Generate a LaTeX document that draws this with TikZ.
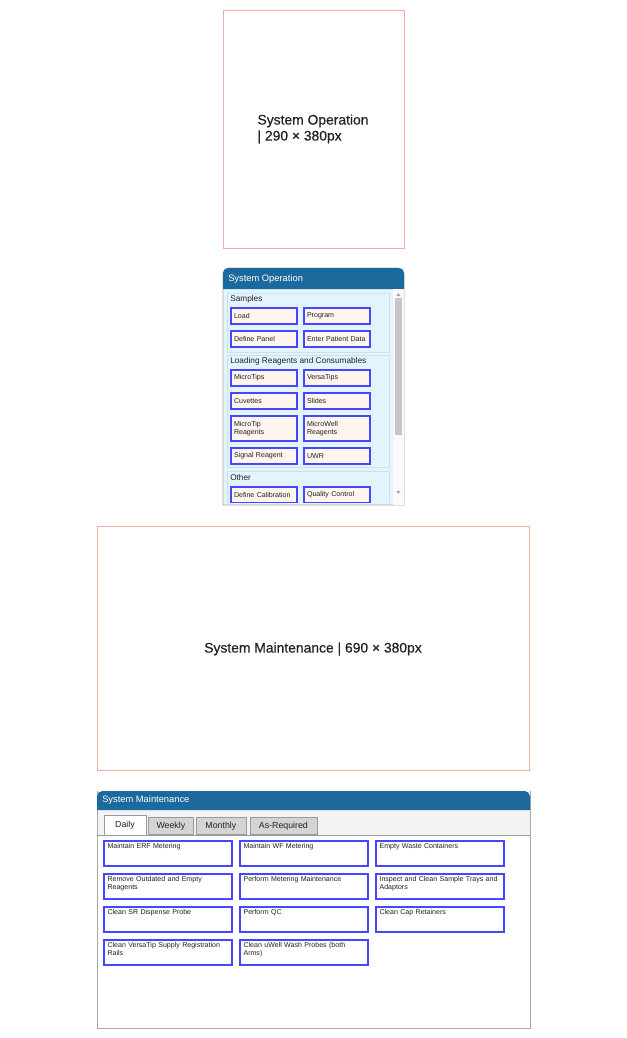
\documentclass[tikz,border=0pt]{standalone}
\usepackage{fontspec}
\setmainfont{Liberation Sans}
\newfontfamily\phfont{Liberation Sans}[FakeBold=0.5]
\definecolor{pinkb}{HTML}{F7A8A8}
\definecolor{hdr}{HTML}{1C699E}
\definecolor{opbg}{HTML}{E4F4FC}
\definecolor{grpb}{HTML}{C9E2EE}
\definecolor{btnfill}{HTML}{FFF5EF}
\definecolor{btnb}{HTML}{4646FF}
\definecolor{tabg}{HTML}{D4D4D4}
\definecolor{tabb}{HTML}{9A9A9A}
\definecolor{txt}{HTML}{222222}
\definecolor{panb}{HTML}{A8A8A8}
\definecolor{strip}{HTML}{F3F3F3}
\tikzset{
  ph/.style={draw=pinkb, line width=0.65pt},
  phtext/.style={font=\phfont\fontsize{10.4}{12}\selectfont, text=txt, align=left, inner sep=0pt},
  hdrtext/.style={font=\fontsize{7}{8}\selectfont, text=white, anchor=west, inner sep=0pt},
  grplabel/.style={font=\fontsize{6.2}{7}\selectfont, text=txt, anchor=west, inner sep=0pt},
  grpbox/.style={draw=grpb, line width=0.6pt},
  btnedge/.style={draw=btnb, line width=1.5pt},
  opbtn/.style={btnedge, fill=btnfill, anchor=north west,
    text width=45pt, inner xsep=2.25pt, inner ysep=0pt, minimum height=12pt,
    align=left, font=\fontsize{5.3}{6}\selectfont, text=txt},
  mbtn/.style={btnedge, fill=white, anchor=north west,
    minimum width=96pt, minimum height=18.75pt, inner sep=0pt},
  mtext/.style={anchor=north west, inner sep=0pt, align=left, text width=90pt,
    font=\fontsize{5.3}{6}\selectfont, text=txt},
  tabn/.style={draw=tabb, line width=0.6pt, fill=tabg, anchor=north west, inner sep=0pt,
    minimum height=12.75pt, font=\fontsize{6.6}{7.5}\selectfont, text=txt},
}
\newcommand{\mb}[4]{%
  \node[mbtn] (#1) at (#2,#3) {};
  \node[mtext] (#1t) at ([xshift=3.2pt,yshift=-2.5pt]#1.north west) {#4};}
\begin{document}
\begin{tikzpicture}[x=0.75pt,y=-0.75pt]
\useasboundingbox (0,0) rectangle (626,1038);
\fill[white] (0,0) rectangle (626,1038);

% ---------- placeholder 1 ----------
\draw[ph] (223,10) rectangle (404,248);
\node[phtext] (ph1) at (313,129) {System Operation\\| 290 × 380px};

% ---------- System Operation panel ----------
\draw[panb, fill=opbg, line width=0.6pt] (223,505) {[rounded corners=4pt] -- (223,268) -- (404,268)} -- (404,505) -- cycle;
\fill[hdr] (223,289) {[rounded corners=4pt] -- (223,268) -- (404,268)} -- (404,289) -- cycle;
\node[hdrtext] (opt) at (228,279) {System Operation};
% scrollbar
\fill[white!96!gray] (393,289) rectangle (403.6,504.6);
\fill[gray!45] (395,298) rectangle (401.5,435);
\fill[gray!70] (396.3,296) -- (400.3,296) -- (398.3,293) -- cycle;
\fill[gray!70] (396.3,491) -- (400.3,491) -- (398.3,494) -- cycle;
\begin{scope}
\clip (223,289) rectangle (393,502);
\draw[grpbox] (227,293) rectangle (389,352);
\draw[grpbox] (227,355) rectangle (389,467);
\draw[grpbox] (227,471) rectangle (389,515);
\node[grplabel] (gs) at (230,299) {Samples};
\node[grplabel] (gl) at (230,361) {Loading Reagents and Consumables};
\node[grplabel] (go) at (230,478) {Other};
\node[opbtn] (b1) at (230,307) {Load};
\node[opbtn] (b2) at (303,307) {Program};
\node[opbtn] (b3) at (230,330) {Define Panel};
\node[opbtn] (b4) at (303,330) {Enter Patient Data};
\node[opbtn] (b5) at (230,369) {MicroTips};
\node[opbtn] (b6) at (303,369) {VersaTips};
\node[opbtn] (b7) at (230,392) {Cuvettes};
\node[opbtn] (b8) at (303,392) {Slides};
\node[opbtn, minimum height=18.75pt] (b9) at (230,415) {MicroTip\\Reagents};
\node[opbtn, minimum height=18.75pt] (b10) at (303,415) {MicroWell\\Reagents};
\node[opbtn] (b11) at (230,447) {Signal Reagent};
\node[opbtn] (b12) at (303,447) {UWR};
\node[opbtn] (b13) at (230,486) {Define Calibration};
\node[opbtn] (b14) at (303,486) {Quality Control};
\end{scope}

% ---------- placeholder 2 ----------
\draw[ph] (97,526) rectangle (529.5,770.5);
\node[phtext] (ph2) at (313,649) {System Maintenance | 690 × 380px};

% ---------- System Maintenance panel ----------
\draw[panb, fill=white, line width=0.6pt] (97,791) -- (97,1028) -- (530,1028) -- (530,791);
\fill[strip] (97.5,810) rectangle (529.5,835);
\fill[hdr] (97,810) {[rounded corners=4pt] -- (97,791) -- (530,791)} -- (530,810) -- cycle;
\node[hdrtext] (mt) at (102,800.5) {System Maintenance};
\draw[tabb, line width=0.6pt] (97,835) -- (530,835);
\node[tabn, minimum width=33.75pt] (t2) at (148,817) {Weekly};
\node[tabn, minimum width=37.5pt] (t3) at (195.5,817) {Monthly};
\node[tabn, minimum width=50.25pt] (t4) at (249.5,817) {As-Required};
\fill[white] (104,815) rectangle (146,835.4);
\draw[tabb, line width=0.6pt] (104,835) -- (104,815) -- (146,815) -- (146,835);
\node[font=\fontsize{6.6}{7.5}\selectfont, text=txt, inner sep=0pt] (t1) at (125,825.5) {Daily};

\mb{m1}{103}{840}{Maintain ERF Metering}
\mb{m2}{239}{840}{Maintain WF Metering}
\mb{m3}{375}{840}{Empty Waste Containers}
\mb{m4}{103}{873}{Remove Outdated and Empty\\Reagents}
\mb{m5}{239}{873}{Perform Metering Maintenance}
\mb{m6}{375}{873}{Inspect and Clean Sample Trays and\\Adaptors}
\mb{m7}{103}{906}{Clean SR Dispense Probe}
\mb{m8}{239}{906}{Perform QC}
\mb{m9}{375}{906}{Clean Cap Retainers}
\mb{m10}{103}{939}{Clean VersaTip Supply Registration\\Rails}
\mb{m11}{239}{939}{Clean uWell Wash Probes (both\\Arms)}
\end{tikzpicture}
\end{document}
